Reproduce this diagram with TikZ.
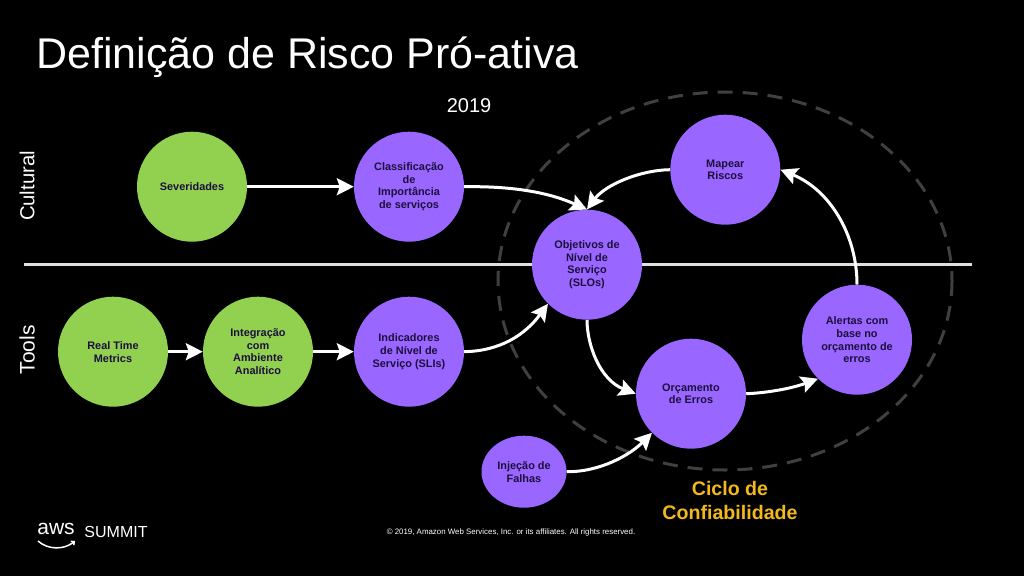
\documentclass[tikz,border=0pt]{standalone}
\usepackage{fontspec}
\setmainfont{Liberation Sans}
\usetikzlibrary{arrows.meta, shapes.geometric}
\definecolor{verde}{HTML}{92D050}
\definecolor{roxo}{HTML}{9966FF}
\definecolor{ouro}{HTML}{F2B81C}
\definecolor{tinta}{HTML}{1C0F3C}
\tikzset{
  rotulo/.style={align=center, text=tinta, font=\fontsize{10.9}{12.8}\selectfont\bfseries},
  bola/.style={circle, fill=#1, minimum size=110pt, inner sep=0pt, rotulo},
  seta/.style={draw=white, line width=3pt, -{Stealth[width=17pt, length=17pt, inset=3pt]}},
}
\begin{document}
\begin{tikzpicture}[x=1pt, y=-1pt, every node/.style={text=white}]
  \fill[black] (0,0) rectangle (1024,576);
  \draw[draw=white!25!black, line width=3pt, dash pattern=on 15pt off 10pt] (725,281) ellipse[x radius=227, y radius=189];
  \coordinate (esq) at (24,264);
  \coordinate (dir) at (972,264);
  \draw[white!88!black, line width=3pt] (esq) -- (dir);
  \foreach \n/\x/\y/\c/\t in {sev/192/186.7/verde/{Severidades}, cla/409/186.7/roxo/{Classificação\\de\\Importância\\de serviços}, slo/587/264.7/roxo/{Objetivos de\\Nível de\\Serviço\\(SLOs)}, map/725.3/169.7/roxo/{Mapear\\Riscos}, rtm/113/351.7/verde/{Real Time\\Metrics}, int/258/351.7/verde/{Integração\\com\\Ambiente\\Analítico}, sli/409/351.7/roxo/{Indicadores\\de Nível de\\Serviço (SLIs)}, ale/857/339.7/roxo/{Alertas com\\base no\\orçamento de\\erros}, orc/691/393.7/roxo/{Orçamento\\de Erros}} {
    \node[bola=\c] (\n) at (\x,\y) {\t};
  }
  \node[ellipse, fill=roxo, minimum width=85pt, minimum height=72pt, inner sep=0pt, rotulo] (inj) at (524,471.7) {Injeção de\\Falhas};
  % setas
  \draw[seta] (sev) -- (cla);
  \draw[seta] (rtm) -- (int);
  \draw[seta] (int) -- (sli);
  \draw[seta] (cla.east) .. controls (515,186) and (550,193) .. (slo.north);
  \draw[seta] (map.west) .. controls (640,170) and (605,185) .. (slo.north);
  \draw[seta] (sli.east) .. controls (500,351) and (525,335) .. (slo.-135);
  \draw[seta] (slo.south) .. controls (587,345) and (600,380) .. (orc.west);
  \draw[seta] (orc.east) .. controls (765,393) and (790,389) .. (ale.-135);
  \draw[seta] (ale.north) .. controls (857,235) and (830,190) .. (map.east);
  \draw[seta] (inj.east) .. controls (600,472) and (630,455) .. (orc.-135);
  % textos
  \node[anchor=west, inner sep=0pt, font=\fontsize{43}{46}\selectfont] (titulo) at (36,57) {Definição de Risco Pró-ativa};
  \node[font=\fontsize{20}{22}\selectfont] (ano) at (469,106) {2019};
  \node[rotate=90, font=\fontsize{20.3}{22}\selectfont] (cult) at (27,186) {Cultural};
  \node[rotate=90, font=\fontsize{21}{22}\selectfont] (tools) at (27,350) {Tools};
  \node[align=center, text=ouro, font=\fontsize{19.6}{24}\selectfont\bfseries] (ciclo) at (730,500) {Ciclo de\\Confiabilidade};
  \node[font=\fontsize{7.9}{10}\selectfont] (copy) at (511,532) {© 2019, Amazon Web Services, Inc. or its affiliates. All rights reserved.};
  \node[font=\fontsize{16}{18}\selectfont] (summit) at (116,532) {SUMMIT};
  \node[font=\fontsize{21}{22}\selectfont] (aws) at (56,529) {aws};
  \coordinate (sa) at (38,541);
  \coordinate (sb) at (75,541);
  \draw[white, line width=1.5pt, -{Straight Barb[length=2.5pt]}] (sa) .. controls (48,550) and (64,550) .. (sb);
\end{tikzpicture}
\end{document}
